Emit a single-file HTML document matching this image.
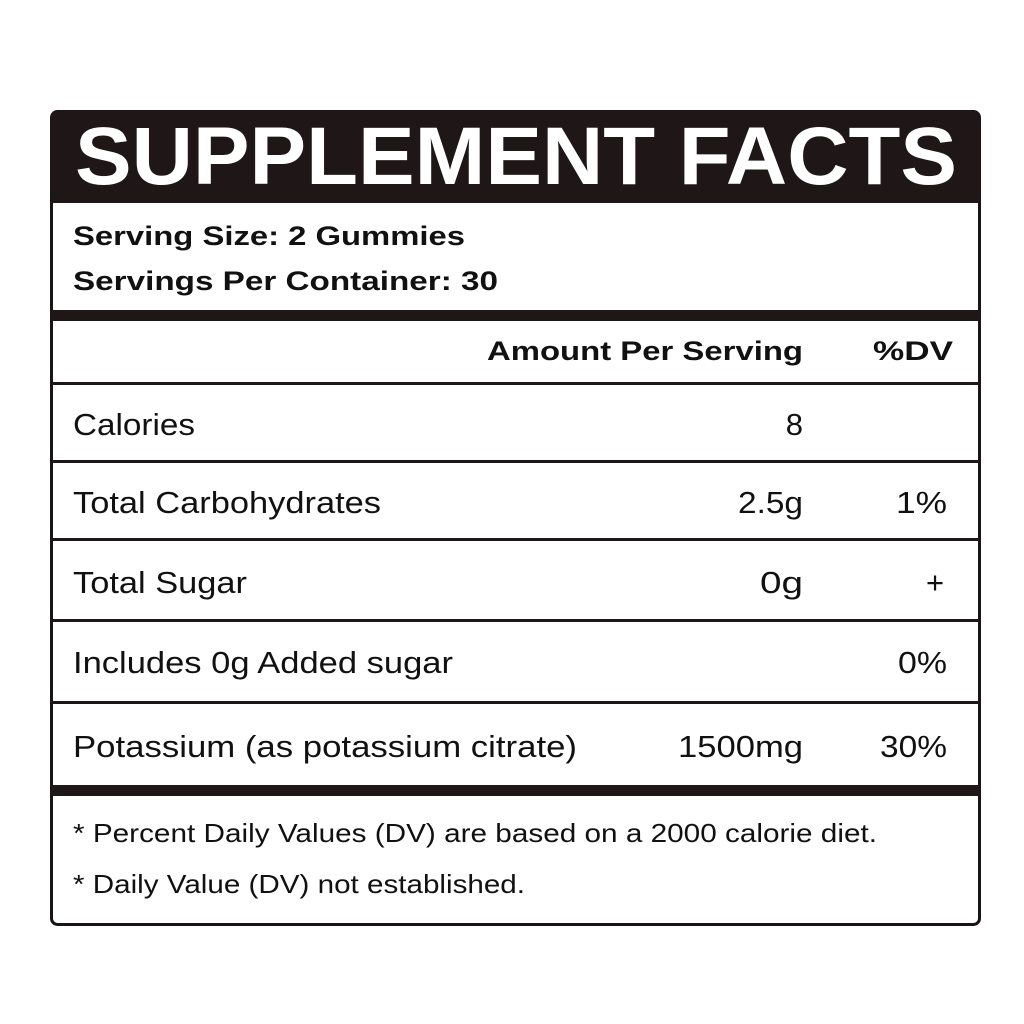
<!DOCTYPE html>
<html><head><style>html,body{margin:0;padding:0;background:#fff}svg{display:block}</style></head>
<body>
<svg width="1024" height="1024" viewBox="0 0 1024 1024" xmlns="http://www.w3.org/2000/svg">
<rect width="1024" height="1024" fill="#fff"/>
<rect x="51.5" y="111.5" width="928" height="813" rx="6" fill="#fff" stroke="#1a1414" stroke-width="3"/>
<path d="M57 111 H974 A6 6 0 0 1 980 117 V203 H51 V117 A6 6 0 0 1 57 111 Z" fill="#1f1717"/>
<rect x="51" y="310" width="929" height="11" fill="#1f1717"/>
<rect x="51" y="382" width="929" height="3" fill="#1f1717"/>
<rect x="51" y="460" width="929" height="3" fill="#1f1717"/>
<rect x="51" y="538" width="929" height="3" fill="#1f1717"/>
<rect x="51" y="619" width="929" height="3" fill="#1f1717"/>
<rect x="51" y="701" width="929" height="3" fill="#1f1717"/>
<rect x="51" y="785" width="929" height="11" fill="#1f1717"/>
<g font-family="Liberation Sans, sans-serif" fill="#111">
<text x="75" y="184" font-size="82" font-weight="bold" fill="#fff" textLength="882" lengthAdjust="spacingAndGlyphs">SUPPLEMENT FACTS</text>
<text x="73" y="245" font-size="27" font-weight="bold" textLength="392" lengthAdjust="spacingAndGlyphs">Serving Size: 2 Gummies</text>
<text x="73" y="290" font-size="27" font-weight="bold" textLength="425" lengthAdjust="spacingAndGlyphs">Servings Per Container: 30</text>
<text x="487" y="360" font-size="27" font-weight="bold" textLength="316" lengthAdjust="spacingAndGlyphs">Amount Per Serving</text>
<text x="873" y="360" font-size="27" font-weight="bold" textLength="80" lengthAdjust="spacingAndGlyphs">%DV</text>
<g font-size="31">
<text x="73" y="435" textLength="122" lengthAdjust="spacingAndGlyphs">Calories</text>
<text x="803" y="435" text-anchor="end">8</text>
<text x="73" y="513" textLength="308" lengthAdjust="spacingAndGlyphs">Total Carbohydrates</text>
<text x="738" y="513" textLength="65" lengthAdjust="spacingAndGlyphs">2.5g</text>
<text x="896" y="513" textLength="51" lengthAdjust="spacingAndGlyphs">1%</text>
<text x="760" y="593" textLength="43" lengthAdjust="spacingAndGlyphs">0g</text>
<text x="73" y="593" textLength="174" lengthAdjust="spacingAndGlyphs">Total Sugar</text>
<text x="935" y="593" text-anchor="middle">+</text>
<text x="73" y="673" textLength="380" lengthAdjust="spacingAndGlyphs">Includes 0g Added sugar</text>
<text x="898" y="673" textLength="49" lengthAdjust="spacingAndGlyphs">0%</text>
<text x="73" y="757" textLength="504" lengthAdjust="spacingAndGlyphs">Potassium (as potassium citrate)</text>
<text x="678" y="757" textLength="125" lengthAdjust="spacingAndGlyphs">1500mg</text>
<text x="880" y="757" textLength="67" lengthAdjust="spacingAndGlyphs">30%</text>
</g>
<text x="73" y="842" font-size="26" textLength="804" lengthAdjust="spacingAndGlyphs">* Percent Daily Values (DV) are based on a 2000 calorie diet.</text>
<text x="73" y="893" font-size="26" textLength="452" lengthAdjust="spacingAndGlyphs">* Daily Value (DV) not established.</text>
</g>
</svg>
</body></html>
